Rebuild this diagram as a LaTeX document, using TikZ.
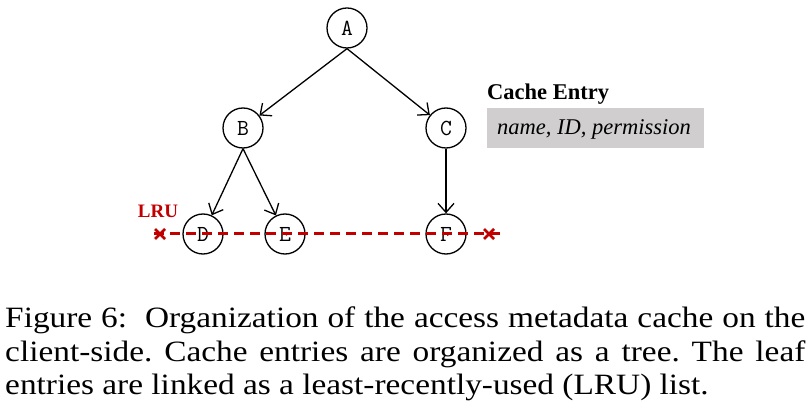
\documentclass[tikz,border=0pt]{standalone}
\usepackage{fontspec}
\setmainfont{Liberation Serif}
\usetikzlibrary{arrows.meta,calc}
\definecolor{lrured}{HTML}{C00000}
\definecolor{boxgray}{HTML}{D0CECE}
\tikzset{
  treenode/.style={circle, draw, line width=1.3pt, minimum size=40pt, inner sep=0pt, font=\ttfamily\fontsize{23}{23}\selectfont},
  treeedge/.style={line width=1.3pt, -{Straight Barb[length=9pt,width=16pt,line width=1.3pt]}},
  lruline/.style={lrured, line width=3pt, dash pattern=on 10pt off 6pt},
  crossmark/.style={lrured, line width=2.8pt}
}
\frenchspacing
\begin{document}
\begin{tikzpicture}[x=1pt,y=-1pt]
\useasboundingbox (0,0) rectangle (810,419);
\node[treenode] (A) at (347,28) {A};
\node[treenode] (B) at (243,128) {B};
\node[treenode] (C) at (446,128) {C};
\node[treenode] (D) at (203,234) {D};
\node[treenode] (E) at (285,234) {E};
\node[treenode] (F) at (446,234) {F};
\draw[treeedge] (A.south) -- (B);
\draw[treeedge] (A.south) -- (C);
\draw[treeedge] (B.south) -- (D);
\draw[treeedge] (B.south) -- (E);
\draw[treeedge] (C.south) -- (F.north);
\coordinate (L1) at (160,234);
\coordinate (L2) at (489,234);
\draw[lruline] (154,234) -- (500,234);
\draw[crossmark] ($(L1)+(-5,-5)$) -- ($(L1)+(5,5)$) ($(L1)+(-5,5)$) -- ($(L1)+(5,-5)$);
\draw[crossmark] ($(L2)+(-5,-5)$) -- ($(L2)+(5,5)$) ($(L2)+(-5,5)$) -- ($(L2)+(5,-5)$);
\node[lrured, font=\bfseries\fontsize{19}{19}\selectfont] (lru) at (158,211) {LRU};
\node[anchor=west, font=\bfseries\fontsize{22.5}{22.5}\selectfont, inner sep=0pt] (ce) at (487,94) {Cache Entry};
\node[fill=boxgray, minimum width=217pt, minimum height=40pt, anchor=north west, inner sep=0pt] (box) at (487,108) {};
\node[anchor=west, font=\itshape\fontsize{22.5}{22.5}\selectfont, inner sep=0pt] (boxtext) at (497,129) {name, ID, permission};
\node[anchor=north west, inner sep=0pt, xscale=1.13, transform shape, text width=708pt, align=justify, font=\fontsize{29.5}{33.5}\selectfont] (cap) at (5,307) {Figure 6:\ \ Organization of the access metadata cache on the\linebreak client-side. Cache entries are organized as a tree. The leaf\linebreak entries are linked as a least-recently-used (LRU) list.};
\end{tikzpicture}
\end{document}
